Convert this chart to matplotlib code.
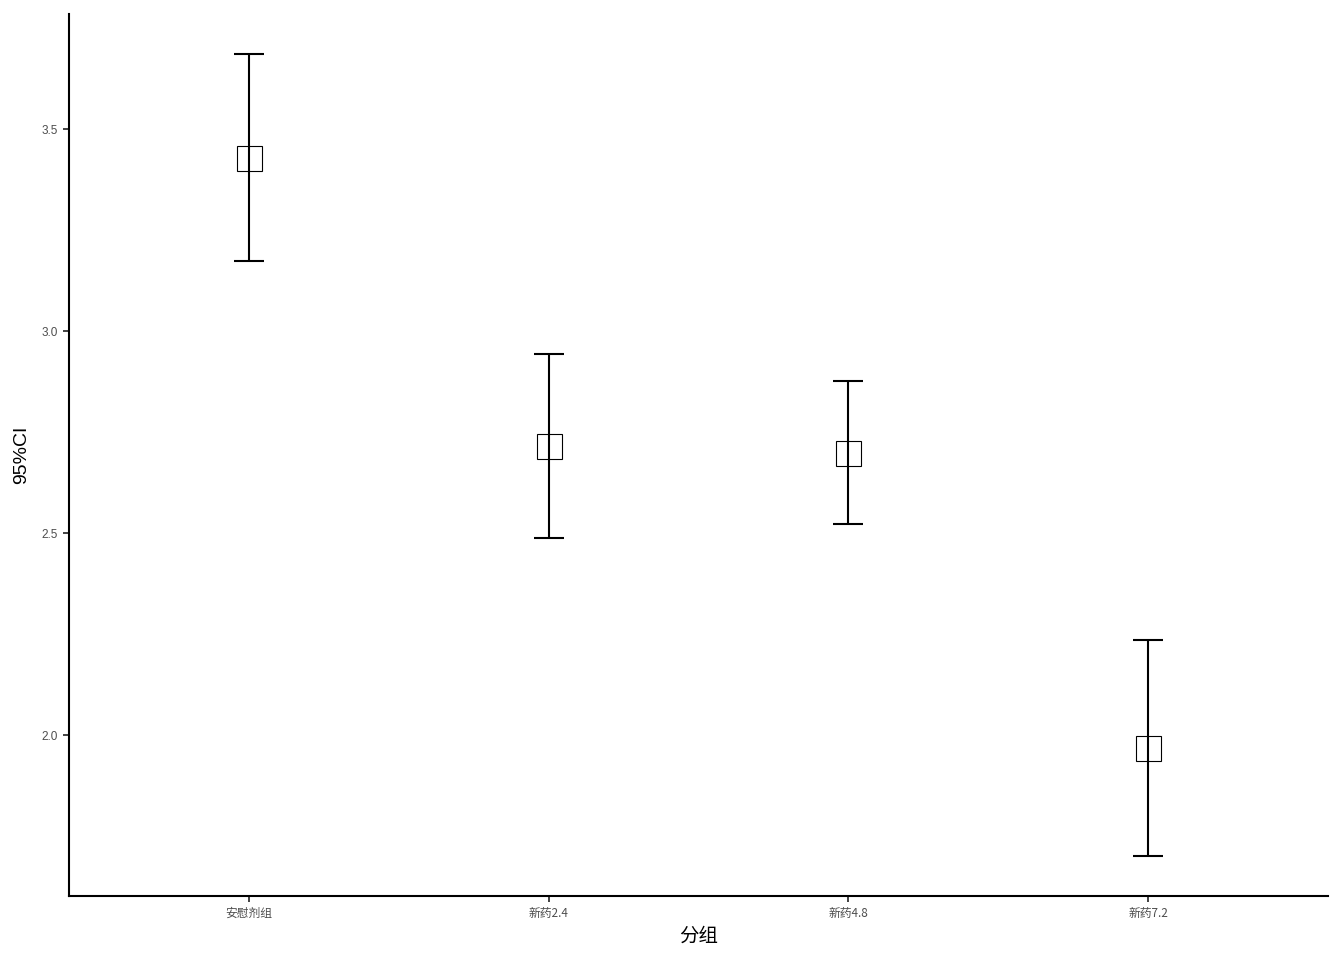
import matplotlib
matplotlib.use("Agg")
import matplotlib.pyplot as plt

plt.rcParams['font.family'] = ['Noto Sans CJK SC', 'DejaVu Sans']

categories = ['安慰剂组', '新药2.4', '新药4.8', '新药7.2']
means = [3.428, 2.715, 2.698, 1.968]
lower = [3.173, 2.488, 2.522, 1.700]
upper = [3.686, 2.943, 2.876, 2.235]
yticks = [2.0, 2.5, 3.0, 3.5]

fig = plt.figure(figsize=(13.44, 9.6), dpi=100)
ax = fig.add_axes([0.0513, 0.0667, 0.9368, 0.9187])

x = list(range(len(categories)))
yerr = [[m - l for m, l in zip(means, lower)], [u - m for m, u in zip(means, upper)]]
ax.errorbar(x, means, yerr=yerr, fmt='none', ecolor='black', elinewidth=1.5,
            capsize=10.8, capthick=1.5, zorder=2)
ax.plot(x, means, linestyle='none', marker='s', markersize=18,
        markerfacecolor='none', markeredgecolor='black', markeredgewidth=0.8, zorder=3)

ax.set_xlim(-0.6, 3.6)
ax.set_ylim(1.6015, 3.785)
ax.set_xticks(x)
ax.set_xticklabels(categories)
ax.set_yticks(yticks)
ax.set_yticklabels([f'{v:.1f}' for v in yticks], family=['Liberation Sans', 'DejaVu Sans'])

for s in ['top', 'right']:
    ax.spines[s].set_visible(False)
for s in ['left', 'bottom']:
    ax.spines[s].set_linewidth(1.5)
    ax.spines[s].set_color('black')

ax.tick_params(axis='both', colors='#333333', labelsize=8.5, length=4, width=1.3,
               labelcolor='#4d4d4d', pad=4)

ax.set_xlabel('分组', fontsize=14, labelpad=4)
ax.set_ylabel('95%CI', fontsize=14, family=['Liberation Sans', 'DejaVu Sans'], labelpad=8)

fig.savefig('out.png', dpi=100)
